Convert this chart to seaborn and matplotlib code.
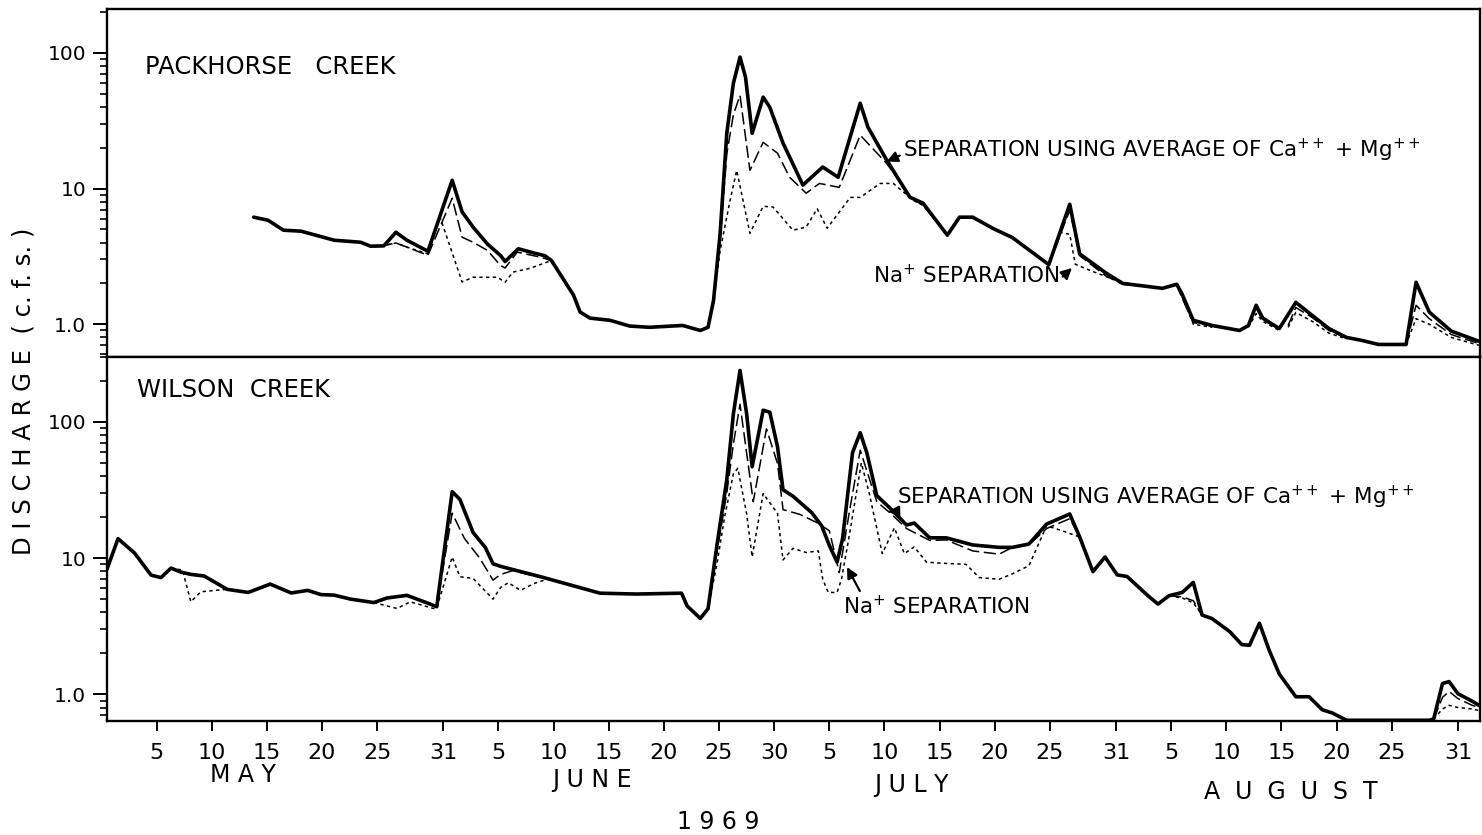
import numpy as np
import pandas as pd
import matplotlib
matplotlib.use("Agg")
import matplotlib.pyplot as plt
import matplotlib.transforms as mtransforms
from matplotlib.ticker import FixedLocator, LogLocator, NullFormatter
import seaborn as sns

sns.set_style("ticks")
plt.rcParams["font.family"] = ["DejaVu Sans"]
plt.rcParams["mathtext.default"] = "regular"
plt.rcParams["text.color"] = "black"
plt.rcParams["axes.labelcolor"] = "black"
plt.rcParams["xtick.color"] = "black"
plt.rcParams["ytick.color"] = "black"

# Day numbers: 1 = May 1, 32 = June 1, 62 = July 1, 93 = August 1 (1969)
tick_days = [5, 10, 15, 20, 25, 31, 36, 41, 46, 51, 56, 61, 66, 71, 76, 81, 86, 92,
             97, 102, 107, 112, 117, 123]
tick_labels = ["5", "10", "15", "20", "25", "31", "5", "10", "15", "20", "25", "30",
               "5", "10", "15", "20", "25", "31", "5", "10", "15", "20", "25", "31"]
month_names = ["M A Y", "J U N E", "J U L Y", "A  U  G  U  S  T"]
month_centers = [12.8, 44.5, 73.4, 107.8]

# ---- Packhorse Creek -------------------------------------------------------
pk_total_day = [13.8, 15.1, 16.5, 18.1, 21.1, 23.5, 24.4, 25.6, 26.7, 27.7, 29.6, 31.8,
                32.7, 33.7, 35.0, 36.2, 36.6, 37.8, 39.2, 40.2, 40.8, 42.8, 43.4, 44.3,
                46.1, 47.9, 49.7, 52.7, 54.3, 55.0, 55.5, 56.1, 56.7, 57.3, 57.9, 58.4,
                59.0, 60.0, 60.6, 61.8, 63.6, 65.4, 66.8, 68.8, 69.5, 71.2, 73.3, 74.5,
                76.7, 77.8, 79.0, 80.8, 82.6, 85.9, 87.8, 88.7, 91.1, 92.6, 96.2, 97.5,
                98.0, 99.0, 100.7, 103.2, 104.0, 104.7, 105.3, 106.8, 108.3, 109.8,
                111.3, 112.9, 114.3, 115.8, 118.3, 119.2, 120.4, 122.4, 124.9]
pk_total_cfs = [6.15, 5.84, 4.93, 4.85, 4.16, 4.02, 3.76, 3.78, 4.76, 4.16, 3.45, 11.5,
                6.73, 5.19, 3.9, 3.2, 2.9, 3.6, 3.35, 3.2, 2.95, 1.64, 1.23, 1.11,
                1.07, 0.97, 0.95, 0.98, 0.90, 0.95, 1.5, 4.68, 25.5, 59.7, 92.9, 66.0,
                25.5, 47.1, 39.7, 21.6, 10.6, 14.4, 12.1, 42.5, 28.3, 16.2, 8.63, 7.8,
                4.53, 6.15, 6.15, 5.1, 4.35, 2.75, 7.66, 3.30, 2.38, 2.0, 1.84, 1.97,
                1.66, 1.07, 0.98, 0.90, 0.98, 1.38, 1.11, 0.93, 1.45, 1.16,
                0.93, 0.80, 0.76, 0.71, 0.71, 2.04, 1.23, 0.89, 0.75]

pk_camg_day = [25.3, 26.7, 27.7, 29.6, 31.8, 32.7, 33.7, 35.0, 36.2, 36.6, 37.7, 39.8, 40.8,
               55.0, 55.5, 56.1, 56.7, 57.3, 57.9, 58.8, 60.0, 61.3, 62.4, 63.9, 65.1,
               66.9, 68.8, 71.2, 73.6, 74.5, 76.7,
               85.9, 87.8, 88.7, 91.1, 92.6, 93.8,
               97.5, 98.0, 99.0, 100.7,
               104.0, 104.7, 105.3, 106.8,
               107.6, 108.3, 109.8, 111.3, 112.9,
               118.3, 119.2, 120.4, 122.4, 124.9]
pk_camg_cfs = [3.76, 3.97, 3.7, 3.22, 8.48, 4.38, 4.02, 3.5, 2.7, 2.6, 3.4, 3.12, 2.95,
               0.95, 1.45, 4.2, 18.0, 35.0, 48.6, 13.6, 21.9, 18.2, 12.1, 9.23, 10.9,
               10.2, 24.7, 15.3, 8.2, 7.6, 4.53,
               2.75, 6.92, 3.2, 2.26, 1.97, 1.93,
               1.97, 1.55, 1.03, 0.97,
               0.98, 1.31, 1.08, 0.92,
               0.98, 1.33, 1.12, 0.90, 0.79,
               0.71, 1.38, 1.10, 0.84, 0.72]
pk_camg_event = [1] * 13 + [2] * 18 + [3] * 6 + [4] * 4 + [5] * 4 + [6] * 5 + [7] * 5

pk_na_day = [25.3, 26.7, 27.7, 29.6, 30.7, 32.7, 33.7, 35.9, 36.6, 37.3, 38.9, 40.1, 40.8,
             55.0, 55.5, 56.1, 57.0, 57.6, 58.8, 60.0, 60.9, 62.7, 63.9, 64.9, 65.8,
             67.9, 68.8, 70.6, 71.8, 73.6, 74.5, 76.7,
             85.9, 86.9, 87.8, 88.3, 89.6, 91.7, 93.8,
             97.5, 98.4, 99.0, 100.7,
             104.0, 104.7, 105.3, 106.8,
             107.6, 108.3, 109.8, 111.3, 112.9,
             118.3, 119.2, 120.4, 122.4, 124.9]
pk_na_cfs = [3.76, 3.97, 3.7, 3.3, 6.15, 2.05, 2.22, 2.22, 2.04, 2.42, 2.59, 2.81, 2.95,
             0.95, 1.5, 3.5, 8.2, 13.6, 4.68, 7.4, 7.3, 4.93, 5.2, 7.1, 5.1,
             8.6, 8.6, 10.9, 10.9, 8.2, 7.5, 4.53,
             2.75, 4.76, 4.6, 2.77, 2.5, 2.15, 1.93,
             1.97, 1.33, 1.0, 0.95,
             0.95, 1.2, 1.05, 0.9,
             0.95, 1.22, 1.05, 0.86, 0.78,
             0.71, 1.10, 1.0, 0.8, 0.70]
pk_na_event = [1] * 13 + [2] * 19 + [3] * 7 + [4] * 4 + [5] * 4 + [6] * 5 + [7] * 5

# ---- Wilson Creek ----------------------------------------------------------
ws_total_day = [0.5, 1.5, 3.0, 4.5, 5.4, 6.3, 7.2, 8.1, 9.3, 11.4, 13.3, 15.3, 17.2, 18.7,
                19.9, 21.1, 22.6, 24.7, 25.9, 27.7, 29.5, 30.4, 31.8, 32.5, 33.7, 34.8,
                35.5, 36.2, 40.1, 45.2, 48.5, 52.6, 53.1, 54.3, 55.0, 55.8, 56.7, 57.3,
                57.9, 58.5, 59.0, 60.0, 60.6, 61.3, 61.8, 62.7, 64.4, 65.3, 66.0, 66.7,
                67.2, 68.1, 68.8, 69.4, 70.3, 71.5, 73.0, 73.7, 75.1, 76.6, 79.0, 81.4,
                82.6, 84.1, 85.7, 87.8, 88.7, 89.9, 91.0, 92.1, 93.0, 94.9, 95.8, 96.8,
                98.0, 99.0, 99.8, 100.7, 102.3, 103.4, 104.1, 105.0, 105.9, 106.8, 108.3,
                109.5, 110.7, 111.6, 112.9, 120.4, 120.8, 121.6, 122.2, 123.0, 124.3, 124.9]
ws_total_cfs = [8.3, 13.9, 10.9, 7.5, 7.2, 8.45, 7.9, 7.6, 7.4, 5.9, 5.6, 6.45, 5.55, 5.8,
                5.4, 5.35, 5.0, 4.72, 5.1, 5.33, 4.7, 4.4, 30.8, 27.0, 15.4, 12.0,
                9.1, 8.7, 7.2, 5.53, 5.45, 5.53, 4.46, 3.61, 4.25, 12.3, 37.6, 115,
                239, 115, 46.9, 122, 118, 65.8, 31.8, 28.5, 21.6, 17.3, 12.4, 9.35,
                13.9, 59.4, 83.4, 59.4, 28.8, 23.3, 17.5, 18.1, 14.1, 14.1, 12.5, 12.0,
                12.0, 12.7, 17.8, 21.1, 14.3, 7.96, 10.2, 7.54, 7.33, 5.29, 4.6, 5.3,
                5.6, 6.64, 3.82, 3.6, 2.89, 2.32, 2.29, 3.33, 2.09, 1.41, 0.96,
                0.96, 0.77, 0.73, 0.645, 0.645, 0.66, 1.2, 1.24, 1.01, 0.89, 0.83]

ws_camg_day = [30.4, 31.8, 32.9, 34.3, 35.5, 36.2, 37.3, 39.2, 40.1,
               55.0, 55.8, 56.7, 57.3, 57.9, 59.1, 60.3, 61.3, 61.8, 63.3, 64.9, 66.0,
               66.9, 67.8, 68.8, 70.3, 71.5, 73.0, 75.1, 76.6, 79.0, 81.4, 82.6, 84.1,
               85.7, 87.8, 88.7,
               96.8, 98.0, 99.0, 99.8,
               120.8, 121.6, 122.2, 123.0, 124.3, 124.9]
ws_camg_cfs = [4.4, 21.4, 14.0, 10.0, 6.9, 7.6, 8.1, 7.4, 7.2,
               4.25, 11.0, 30.0, 69.0, 135, 26.0, 89.0, 49.6, 22.7, 21.0, 18.2, 15.9,
               7.83, 21.5, 62.0, 26.0, 21.5, 16.5, 13.5, 13.6, 11.3, 10.7, 12.0, 12.5,
               16.5, 19.5, 14.3,
               5.3, 5.2, 4.87, 3.82,
               0.66, 0.95, 1.05, 0.93, 0.83, 0.80]
ws_camg_event = [1] * 9 + [2] * 27 + [3] * 4 + [4] * 6

ws_na_day = [6.3, 7.35, 8.1, 9.0, 10.5, 11.4,
             24.7, 26.8, 28.0, 30.1, 30.4, 31.8, 32.5, 33.7, 35.5, 36.2, 36.9, 38.0,
             39.2, 40.6,
             55.0, 55.8, 56.5, 57.3, 57.7, 58.5, 59.0, 60.0, 61.3, 61.8, 62.7, 63.9,
             65.0, 65.4, 65.9, 66.7, 67.1, 67.8, 68.9, 69.6, 70.8, 71.9, 72.8, 73.7,
             74.8, 76.0, 78.4, 79.6, 81.4, 82.6, 84.1, 85.7, 87.1, 88.7,
             96.8, 98.0, 99.0, 99.8,
             120.8, 121.6, 122.2, 123.0, 124.3, 124.9]
ws_na_cfs = [8.45, 8.17, 4.78, 5.66, 5.82, 5.9,
             4.72, 4.27, 4.78, 4.27, 4.3, 10.2, 7.3, 7.1, 5.0, 6.1, 6.6, 5.8,
             6.5, 7.1,
             4.25, 9.0, 20.0, 41.7, 45.7, 21.2, 10.2, 29.8, 21.3, 9.7, 11.8, 11.0,
             11.3, 7.0, 5.6, 5.6, 7.0, 14.5, 50.0, 30.4, 10.8, 16.7, 10.8, 12.1,
             9.35, 9.2, 9.0, 7.2, 7.0, 7.67, 8.8, 17.3, 15.9, 14.3,
             5.3, 5.1, 4.7, 3.82,
             0.66, 0.78, 0.83, 0.80, 0.78, 0.76]
ws_na_event = [1] * 6 + [2] * 14 + [3] * 34 + [4] * 4 + [5] * 6

# ---- figure layout (pixel geometry of a 1482 x 835 canvas) -----------------
W, H = 1482, 835
fig = plt.figure(figsize=(W / 100, H / 100), dpi=100)
fig.patch.set_facecolor("white")


def fx(px):
    return px / W


def fy(py):
    return 1 - py / H


left, right = 107, 1480
ax_top = fig.add_axes([fx(left), fy(357), fx(right) - fx(left), fy(9.3) - fy(357)])
ax_bot = fig.add_axes([fx(left), fy(721), fx(right) - fx(left), fy(357) - fy(721)])

SOLID = dict(linewidth=2.6, solid_joinstyle="round", solid_capstyle="round")
CAMG = dict(linewidth=1.1, linestyle=(0, (8, 3)))
NA = dict(linewidth=1.1, linestyle=(0, (2.2, 2.2)))


def draw(ax, day, cfs, event, style):
    df = pd.DataFrame({"day": day, "cfs": cfs, "event": event})
    sns.lineplot(data=df, x="day", y="cfs", units="event", estimator=None,
                 color="black", ax=ax, legend=False, **style)


draw(ax_top, pk_na_day, pk_na_cfs, pk_na_event, NA)
draw(ax_top, pk_camg_day, pk_camg_cfs, pk_camg_event, CAMG)
draw(ax_top, pk_total_day, pk_total_cfs, [0] * len(pk_total_day), SOLID)

draw(ax_bot, ws_na_day, ws_na_cfs, ws_na_event, NA)
draw(ax_bot, ws_camg_day, ws_camg_cfs, ws_camg_event, CAMG)
draw(ax_bot, ws_total_day, ws_total_cfs, [0] * len(ws_total_day), SOLID)

for ax in (ax_top, ax_bot):
    ax.set_yscale("log")
    ax.set_xlim(0.5, 125)
    ax.yaxis.set_major_locator(FixedLocator([1, 10, 100]))
    ax.set_yticklabels(["1.0", "10", "100"])
    ax.yaxis.set_minor_locator(LogLocator(base=10, subs=np.arange(2, 10), numticks=30))
    ax.yaxis.set_minor_formatter(NullFormatter())
    ax.tick_params(axis="y", which="major", length=10, width=1.4, direction="out",
                   labelsize=14.5, pad=5, colors="black")
    ax.tick_params(axis="y", which="minor", length=5, width=1.2, direction="out",
                   colors="black")
    ax.set_xlabel("")
    ax.set_ylabel("")
    for sp in ax.spines.values():
        sp.set_linewidth(1.7)
        sp.set_color("black")
        sp.set_visible(True)

ax_top.set_ylim(0.574, 209)
ax_bot.set_ylim(0.637, 300)
ax_top.tick_params(axis="x", which="both", bottom=False, labelbottom=False)
ax_bot.set_xticks(tick_days)
ax_bot.set_xticklabels(tick_labels)
ax_bot.tick_params(axis="x", which="major", length=7, width=1.4, direction="out",
                   labelsize=16, pad=9, colors="black")
ax_bot.tick_params(axis="x", which="minor", bottom=False)

# month names and year under the date axis
tr = mtransforms.blended_transform_factory(ax_bot.transData, fig.transFigure)
for name, center, py in zip(month_names, month_centers, [775, 780, 785, 792]):
    ax_bot.text(center, fy(py), name, transform=tr, ha="center", va="center",
                fontsize=17, color="black")
ax_bot.text(55.9, fy(822), "1 9 6 9", transform=tr, ha="center", va="center",
            fontsize=17, color="black")

fig.text(fx(24), fy(391), "D I S C H A R G E  ( c. f. s. )", rotation=90,
         ha="center", va="center", fontsize=17.5, color="black")

fig.text(fx(145), fy(67), "PACKHORSE   CREEK", ha="left", va="center",
         fontsize=17.5, color="black")
fig.text(fx(137), fy(390), "WILSON  CREEK", ha="left", va="center",
         fontsize=17.5, color="black")

ARROW = dict(arrowstyle="-|>", color="black", lw=1.6, mutation_scale=16,
             shrinkA=0, shrinkB=0)
sep_label = "SEPARATION USING AVERAGE OF Ca$^{++}$ + Mg$^{++}$"
na_label = "Na$^{+}$ SEPARATION"

ax_top.annotate(sep_label, xy=(71.2, 15.8), xycoords="data",
                xytext=(fx(903), fy(150)), textcoords="figure fraction",
                ha="left", va="center", fontsize=15.5, color="black",
                arrowprops=dict(ARROW, relpos=(0.0, 0.35)))
ax_top.annotate(na_label, xy=(88.0, 2.6), xycoords="data",
                xytext=(fx(873), fy(275)), textcoords="figure fraction",
                ha="left", va="center", fontsize=15.5, color="black",
                arrowprops=dict(ARROW, relpos=(1.0, 0.3)))
ax_bot.annotate(sep_label, xy=(71.3, 22.0), xycoords="data",
                xytext=(fx(897), fy(497)), textcoords="figure fraction",
                ha="left", va="center", fontsize=15.5, color="black",
                arrowprops=dict(ARROW, relpos=(0.04, 0.0)))
ax_bot.annotate(na_label, xy=(67.6, 8.6), xycoords="data",
                xytext=(fx(843), fy(606)), textcoords="figure fraction",
                ha="left", va="center", fontsize=15.5, color="black",
                arrowprops=dict(ARROW, relpos=(0.1, 1.0)))

fig.savefig("out.png", dpi=100, facecolor="white")
